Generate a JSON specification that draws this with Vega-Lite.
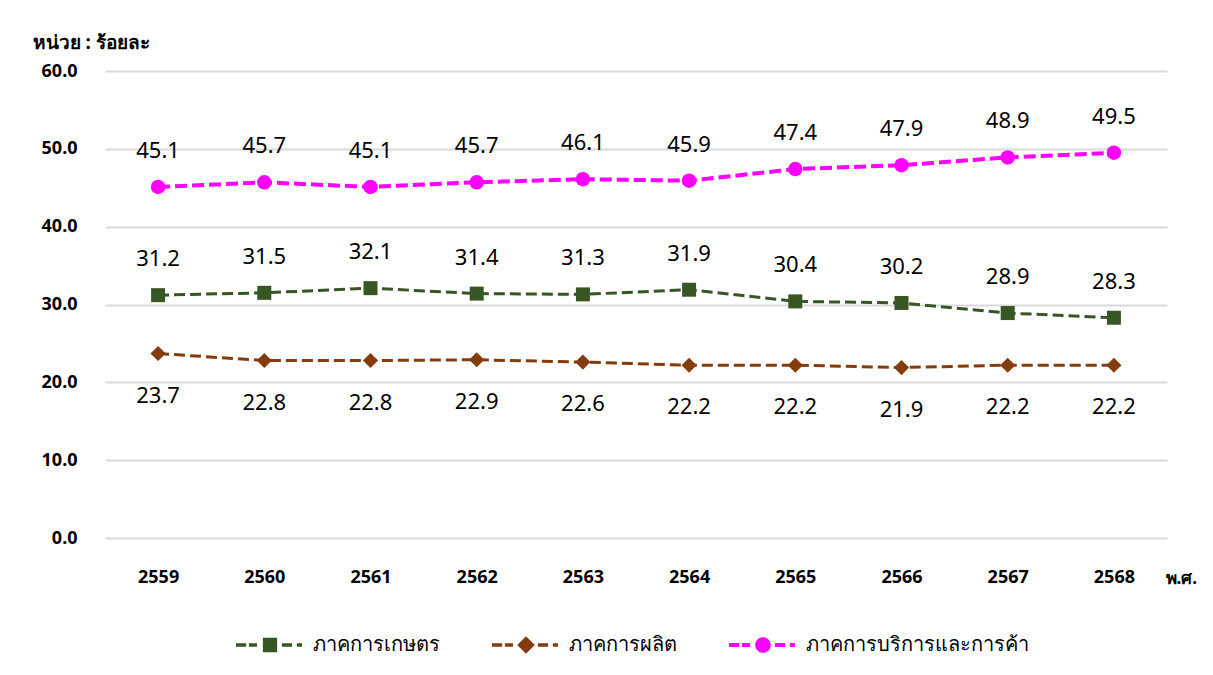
{
  "$schema": "https://vega.github.io/schema/vega-lite/v6.json",
  "width": 1062,
  "height": 467,
  "autosize": {"type": "none"},
  "padding": {"left": 105, "top": 71, "right": 46, "bottom": 137},
  "background": "white",
  "config": {
    "view": {"stroke": null},
    "font": "Tahoma, 'Noto Sans', sans-serif"
  },
  "data": {
    "values": [
      {"year": "2559", "series": "ภาคการเกษตร", "value": 31.2},
      {"year": "2560", "series": "ภาคการเกษตร", "value": 31.5},
      {"year": "2561", "series": "ภาคการเกษตร", "value": 32.1},
      {"year": "2562", "series": "ภาคการเกษตร", "value": 31.4},
      {"year": "2563", "series": "ภาคการเกษตร", "value": 31.3},
      {"year": "2564", "series": "ภาคการเกษตร", "value": 31.9},
      {"year": "2565", "series": "ภาคการเกษตร", "value": 30.4},
      {"year": "2566", "series": "ภาคการเกษตร", "value": 30.2},
      {"year": "2567", "series": "ภาคการเกษตร", "value": 28.9},
      {"year": "2568", "series": "ภาคการเกษตร", "value": 28.3},
      {"year": "2559", "series": "ภาคการผลิต", "value": 23.7},
      {"year": "2560", "series": "ภาคการผลิต", "value": 22.8},
      {"year": "2561", "series": "ภาคการผลิต", "value": 22.8},
      {"year": "2562", "series": "ภาคการผลิต", "value": 22.9},
      {"year": "2563", "series": "ภาคการผลิต", "value": 22.6},
      {"year": "2564", "series": "ภาคการผลิต", "value": 22.2},
      {"year": "2565", "series": "ภาคการผลิต", "value": 22.2},
      {"year": "2566", "series": "ภาคการผลิต", "value": 21.9},
      {"year": "2567", "series": "ภาคการผลิต", "value": 22.2},
      {"year": "2568", "series": "ภาคการผลิต", "value": 22.2},
      {"year": "2559", "series": "ภาคการบริการและการค้า", "value": 45.1},
      {"year": "2560", "series": "ภาคการบริการและการค้า", "value": 45.7},
      {"year": "2561", "series": "ภาคการบริการและการค้า", "value": 45.1},
      {"year": "2562", "series": "ภาคการบริการและการค้า", "value": 45.7},
      {"year": "2563", "series": "ภาคการบริการและการค้า", "value": 46.1},
      {"year": "2564", "series": "ภาคการบริการและการค้า", "value": 45.9},
      {"year": "2565", "series": "ภาคการบริการและการค้า", "value": 47.4},
      {"year": "2566", "series": "ภาคการบริการและการค้า", "value": 47.9},
      {"year": "2567", "series": "ภาคการบริการและการค้า", "value": 48.9},
      {"year": "2568", "series": "ภาคการบริการและการค้า", "value": 49.5}
    ]
  },
  "encoding": {
    "x": {
      "field": "year",
      "type": "ordinal",
      "scale": {"type": "point", "padding": 0.5},
      "axis": {
        "title": "พ.ศ.",
        "titleAngle": 0,
        "titleAlign": "left",
        "titleBaseline": "middle",
        "titleX": 1060,
        "titleY": 40,
        "titleFontSize": 17,
        "titleFontWeight": "bold",
        "labelAngle": 0,
        "labelFontSize": 18,
        "labelFontWeight": "bold",
        "labelColor": "#000000",
        "titleColor": "#000000",
        "labelPadding": 30,
        "domain": false,
        "ticks": false,
        "grid": false
      }
    },
    "y": {
      "field": "value",
      "type": "quantitative",
      "scale": {"domain": [0, 60], "nice": false},
      "axis": {
        "values": [0, 10, 20, 30, 40, 50, 60],
        "format": ".1f",
        "title": "หน่วย : ร้อยละ",
        "titleAngle": 0,
        "titleAlign": "left",
        "titleBaseline": "middle",
        "titleX": -73,
        "titleY": -29,
        "titleFontSize": 19,
        "titleFontWeight": "bold",
        "titleColor": "#000000",
        "labelFontSize": 18,
        "labelFontWeight": "bold",
        "labelColor": "#000000",
        "labelPadding": 28,
        "domain": false,
        "ticks": false,
        "grid": true,
        "gridColor": "#d9d9d9",
        "gridWidth": 2
      }
    },
    "color": {
      "field": "series",
      "type": "nominal",
      "sort": ["ภาคการเกษตร", "ภาคการผลิต", "ภาคการบริการและการค้า"],
      "scale": {
        "domain": ["ภาคการเกษตร", "ภาคการผลิต", "ภาคการบริการและการค้า"],
        "range": ["#375623", "#843C0C", "#FF00FF"]
      },
      "legend": {
        "orient": "none",
        "legendX": 131,
        "legendY": 540,
        "direction": "horizontal",
        "title": null,
        "symbolSize": 4624,
        "labelFontSize": 20,
        "labelLimit": 400,
        "labelColor": "#000000",
        "labelOffset": 9,
        "columnPadding": 52,
        "encode": {
          "symbols": {
            "update": {
              "shape": {"signal": "datum.value === 'ภาคการเกษตร' ? 'M-1,-0.05H-0.7V0.05H-1Z M-0.62,-0.05H-0.38V0.05H-0.62Z M0.35,-0.05H0.65V0.05H0.35Z M0.79,-0.05H0.94V0.05H0.79Z M-0.21,-0.21H0.21V0.21H-0.21Z' : datum.value === 'ภาคการผลิต' ? 'M-1,-0.05H-0.7V0.05H-1Z M-0.62,-0.05H-0.38V0.05H-0.62Z M0.35,-0.05H0.65V0.05H0.35Z M0.79,-0.05H0.94V0.05H0.79Z M-0.26,0L0,-0.26L0.26,0L0,0.26Z' : 'M-1,-0.06H-0.7V0.06H-1Z M-0.62,-0.06H-0.38V0.06H-0.62Z M0.35,-0.06H0.65V0.06H0.35Z M0.79,-0.06H0.94V0.06H0.79Z M-0.23,0A0.23,0.23,0,1,0,0.23,0A0.23,0.23,0,1,0,-0.23,0Z'"},
              "size": {"value": 4624},
              "fill": {"scale": "color", "field": "value"},
              "stroke": {"value": "transparent"},
              "strokeWidth": {"value": 0},
              "opacity": {"value": 1}
            }
          }
        }
      }
    }
  },
  "layer": [
    {
      "transform": [{"filter": "datum.series !== 'ภาคการบริการและการค้า'"}],
      "mark": {"type": "line", "strokeWidth": 3, "strokeDash": [11, 5]}
    },
    {
      "transform": [{"filter": "datum.series === 'ภาคการบริการและการค้า'"}],
      "mark": {"type": "line", "strokeWidth": 4, "strokeDash": [12, 5]}
    },
    {
      "transform": [{"filter": "datum.series === 'ภาคการเกษตร'"}],
      "mark": {"type": "point", "filled": true, "opacity": 1, "shape": "square", "size": 196}
    },
    {
      "transform": [{"filter": "datum.series === 'ภาคการผลิต'"}],
      "mark": {"type": "point", "filled": true, "opacity": 1, "shape": "diamond", "size": 230}
    },
    {
      "transform": [{"filter": "datum.series === 'ภาคการบริการและการค้า'"}],
      "mark": {"type": "point", "filled": true, "opacity": 1, "shape": "circle", "size": 210}
    },
    {
      "transform": [{"filter": "datum.series !== 'ภาคการผลิต'"}],
      "mark": {"type": "text", "dy": -36, "fontSize": 22, "baseline": "middle"},
      "encoding": {
        "text": {"field": "value", "type": "quantitative", "format": ".1f"},
        "color": {"value": "#000000"}
      }
    },
    {
      "transform": [{"filter": "datum.series === 'ภาคการผลิต'"}],
      "mark": {"type": "text", "dy": 42, "fontSize": 22, "baseline": "middle"},
      "encoding": {
        "text": {"field": "value", "type": "quantitative", "format": ".1f"},
        "color": {"value": "#000000"}
      }
    }
  ]
}
